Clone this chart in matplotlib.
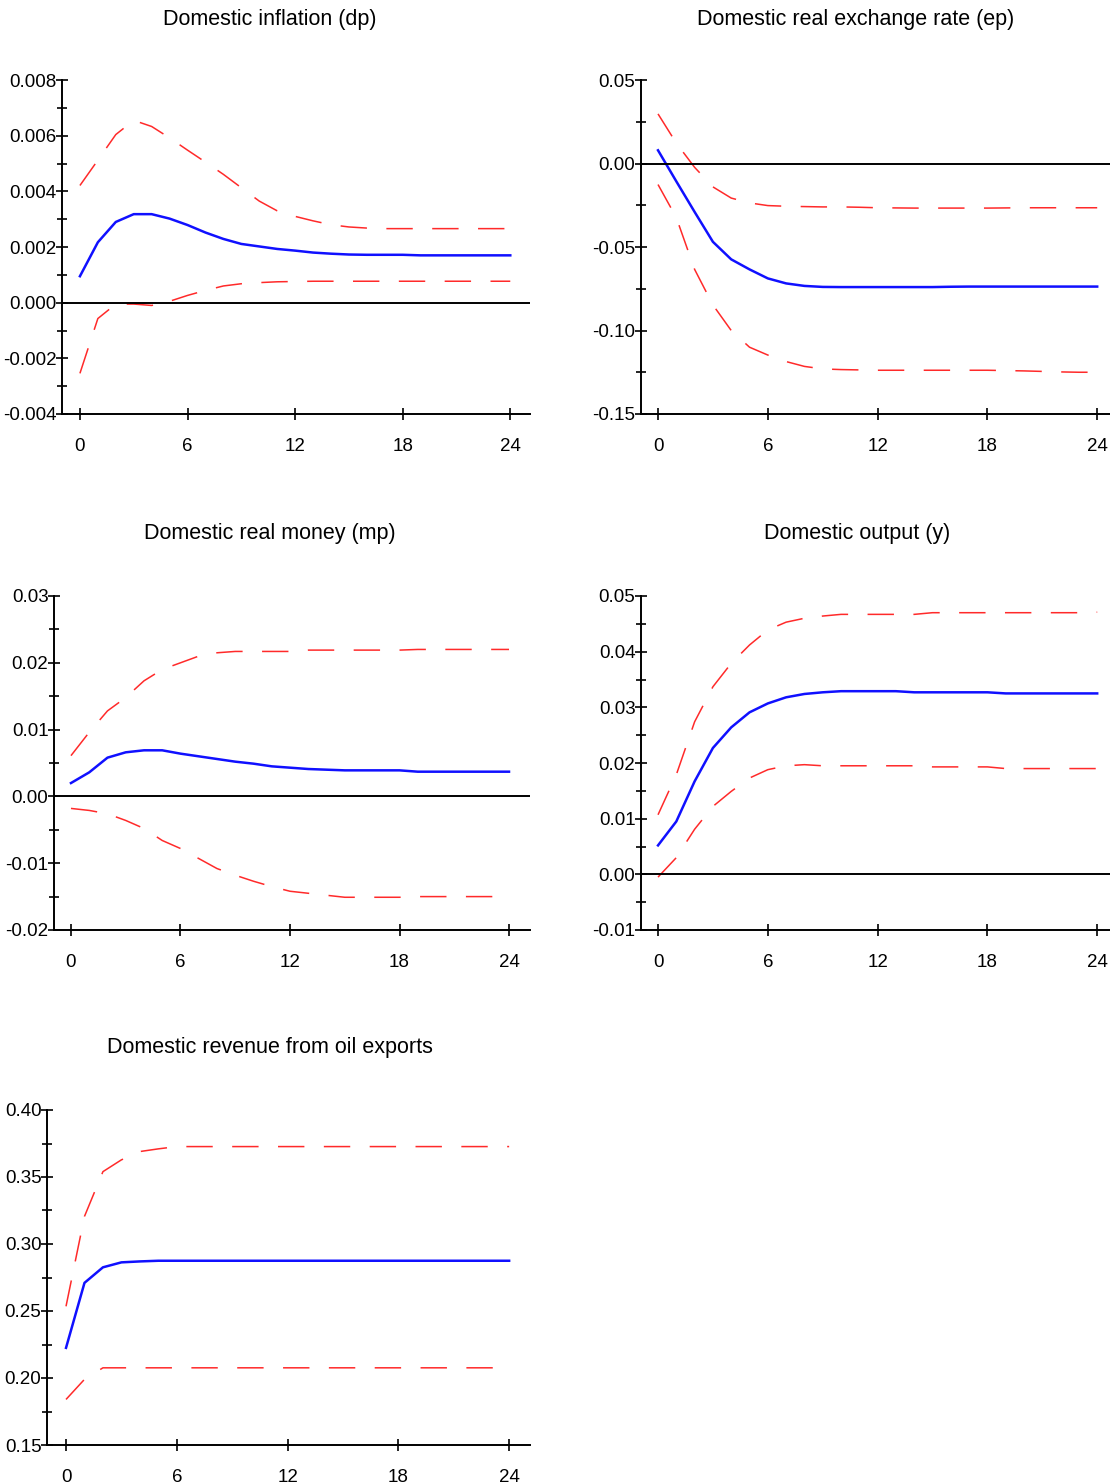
import numpy as np
import matplotlib.pyplot as plt
from matplotlib.ticker import MultipleLocator, FormatStrFormatter

plt.rcParams['font.family'] = ['Liberation Sans', 'DejaVu Sans']
plt.rcParams['lines.scale_dashes'] = False

# horizon
h = list(range(25))

# Domestic inflation (dp)
dp_mid = [0.00095, 0.00217, 0.0029, 0.00318, 0.00318, 0.00302, 0.00279, 0.00252, 0.00229, 0.00211,
          0.00202, 0.00193, 0.00187, 0.00180, 0.00176, 0.00173, 0.00172, 0.00172, 0.00172, 0.00170,
          0.00170, 0.00170, 0.00170, 0.00170, 0.00170]
dp_up = [0.00421, 0.00512, 0.00604, 0.00655, 0.00633, 0.00592, 0.00548, 0.00505, 0.00461, 0.00413,
         0.00365, 0.00330, 0.00310, 0.00294, 0.00280, 0.00272, 0.00268, 0.00266, 0.00266, 0.00266,
         0.00266, 0.00266, 0.00266, 0.00266, 0.00266]
dp_lo = [-0.00254, -0.00057, -0.00005, -0.00005, -0.0001, 0.00005, 0.00026, 0.00044, 0.0006, 0.00068,
         0.00072, 0.00075, 0.00076, 0.00077, 0.00077, 0.00077, 0.00077, 0.00077, 0.00077, 0.00077,
         0.00077, 0.00077, 0.00077, 0.00077, 0.00077]

# Domestic real exchange rate (ep)
ep_mid = [0.0079, -0.0107, -0.029, -0.0469, -0.0574, -0.0634, -0.0688, -0.0718, -0.0733, -0.0739,
          -0.0740, -0.0740, -0.0740, -0.0740, -0.0740, -0.0740, -0.0738, -0.0737, -0.0737, -0.0737,
          -0.0737, -0.0737, -0.0737, -0.0737, -0.0737]
ep_up = [0.0297, 0.0122, -0.0023, -0.014, -0.0207, -0.0236, -0.0252, -0.0256, -0.0258, -0.026,
         -0.0260, -0.0262, -0.0265, -0.0266, -0.0267, -0.0267, -0.0267, -0.0267, -0.0267, -0.0266,
         -0.0265, -0.0265, -0.0265, -0.0265, -0.0265]
ep_lo = [-0.0126, -0.0324, -0.0634, -0.0847, -0.100, -0.110, -0.1147, -0.1186, -0.1215, -0.123,
         -0.1234, -0.1236, -0.1238, -0.1238, -0.1238, -0.1238, -0.1238, -0.1238, -0.1238, -0.1240,
         -0.1242, -0.1245, -0.1248, -0.1250, -0.1250]

# Domestic real money (mp)
mp_mid = [0.0020, 0.0036, 0.0058, 0.0066, 0.0069, 0.0069, 0.0064, 0.0060, 0.0056, 0.0052,
          0.0049, 0.0045, 0.0043, 0.0041, 0.0040, 0.0039, 0.0039, 0.0039, 0.0039, 0.0037,
          0.0037, 0.0037, 0.0037, 0.0037, 0.0037]
mp_up = [0.0061, 0.0096, 0.0128, 0.0148, 0.0173, 0.0190, 0.0200, 0.0210, 0.0215, 0.0217,
         0.0217, 0.0217, 0.0217, 0.0219, 0.0219, 0.0219, 0.0219, 0.0219, 0.0219, 0.0220,
         0.0220, 0.0220, 0.0220, 0.0220, 0.0220]
mp_lo = [-0.0018, -0.0021, -0.0026, -0.0036, -0.0048, -0.0066, -0.0078, -0.0093, -0.0108, -0.0118,
         -0.0127, -0.0135, -0.0142, -0.0145, -0.0148, -0.0151, -0.0151, -0.0151, -0.0151, -0.0150,
         -0.0150, -0.0150, -0.0150, -0.0150, -0.0150]

# Domestic output (y)
y_mid = [0.0052, 0.0095, 0.0167, 0.0227, 0.0264, 0.0291, 0.0307, 0.0318, 0.0324, 0.0327,
         0.0329, 0.0329, 0.0329, 0.0329, 0.0327, 0.0327, 0.0327, 0.0327, 0.0327, 0.0325,
         0.0325, 0.0325, 0.0325, 0.0325, 0.0325]
y_up = [0.0107, 0.0179, 0.0274, 0.0337, 0.0379, 0.0412, 0.0439, 0.0453, 0.0460, 0.0464,
        0.0467, 0.0467, 0.0467, 0.0467, 0.0467, 0.0470, 0.0470, 0.0470, 0.0470, 0.0470,
        0.0470, 0.0470, 0.0470, 0.0470, 0.0471]
y_lo = [-0.0005, 0.0030, 0.0081, 0.0122, 0.0149, 0.0173, 0.0188, 0.0195, 0.0197, 0.0195,
        0.0195, 0.0195, 0.0195, 0.0195, 0.0195, 0.0193, 0.0193, 0.0193, 0.0193, 0.0190,
        0.0190, 0.0190, 0.0190, 0.0190, 0.0190]

# Domestic revenue from oil exports
oil_mid = [0.2225, 0.271, 0.2826, 0.2863, 0.287, 0.2875, 0.2875, 0.2875, 0.2875, 0.2875,
           0.2875, 0.2875, 0.2875, 0.2875, 0.2875, 0.2875, 0.2875, 0.2875, 0.2875, 0.2875,
           0.2875, 0.2875, 0.2875, 0.2875, 0.2875]
oil_up = [0.2535, 0.3206, 0.354, 0.3628, 0.369, 0.371, 0.3727, 0.3727, 0.3727, 0.3727,
          0.3727, 0.3727, 0.3727, 0.3727, 0.3727, 0.3727, 0.3727, 0.3727, 0.3727, 0.3727,
          0.3727, 0.3727, 0.3727, 0.3727, 0.3727]
oil_lo = [0.184, 0.199, 0.2076, 0.2076, 0.2076, 0.2076, 0.2076, 0.2076, 0.2076, 0.2076,
          0.2076, 0.2076, 0.2076, 0.2076, 0.2076, 0.2076, 0.2076, 0.2076, 0.2076, 0.2076,
          0.2076, 0.2076, 0.2076, 0.2076, 0.2076]

titles = ['Domestic inflation (dp)', 'Domestic real exchange rate (ep)', 'Domestic real money (mp)',
          'Domestic output (y)', 'Domestic revenue from oil exports']

W, H = 1110, 1483
fig = plt.figure(figsize=(W / 100, H / 100), dpi=100)

# pixel boxes: left spine, right end, top, bottom ; xlim ; ylim ; major step ; format ; title centre
panels = [
    (62, 530, 80, 414, (-1.0, 25.1), (-0.004, 0.008), 0.002, '%.3f', (270, 20), dp_mid, dp_up, dp_lo),
    (641, 1110, 80, 414, (-0.93, 24.7), (-0.15, 0.05), 0.05, '%.2f', (856, 20), ep_mid, ep_up, ep_lo),
    (54, 530, 596, 930, (-0.93, 25.15), (-0.02, 0.03), 0.01, '%.2f', (270, 533), mp_mid, mp_up, mp_lo),
    (641, 1110, 596, 930, (-0.93, 24.7), (-0.01, 0.05), 0.01, '%.2f', (857, 533), y_mid, y_up, y_lo),
    (47, 530, 1110, 1445, (-1.03, 25.13), (0.15, 0.40), 0.05, '%.2f', (270, 1048), oil_mid, oil_up, oil_lo),
]

for i, p in enumerate(panels):
    l, r, t, b, xl, yl, step, fmt, tc, mid, up, lo = p
    ax = fig.add_axes([l / W, 1 - b / H, (r - l) / W, (b - t) / H])
    ax.plot(h, up, color='#ff2a2a', lw=1.1, dashes=(19, 14))
    ax.plot(h, lo, color='#ff2a2a', lw=1.1, dashes=(19, 14))
    ax.plot(h, mid, color='#1010ff', lw=1.8)
    ax.axhline(0, color='black', lw=1.4)
    ax.set_xlim(xl)
    ax.set_ylim(yl)
    ax.set_xticks([0, 6, 12, 18, 24])
    ax.yaxis.set_major_locator(MultipleLocator(step))
    ax.yaxis.set_minor_locator(MultipleLocator(step / 2))
    ax.yaxis.set_major_formatter(FormatStrFormatter(fmt))
    ax.spines['top'].set_visible(False)
    ax.spines['right'].set_visible(False)
    ax.spines['left'].set_linewidth(1.4)
    ax.spines['bottom'].set_linewidth(1.4)
    ax.tick_params(axis='both', which='major', direction='inout', length=8, width=1.2, labelsize=13.5)
    ax.tick_params(axis='y', which='minor', direction='inout', length=7, width=1.2)
    ax.tick_params(axis='y', which='major', pad=0)
    ax.tick_params(axis='x', which='major', pad=13)
    fig.text(tc[0] / W, 1 - tc[1] / H, titles[i], ha='center', va='center', fontsize=15.5)

plt.savefig('out.png', dpi=100)
